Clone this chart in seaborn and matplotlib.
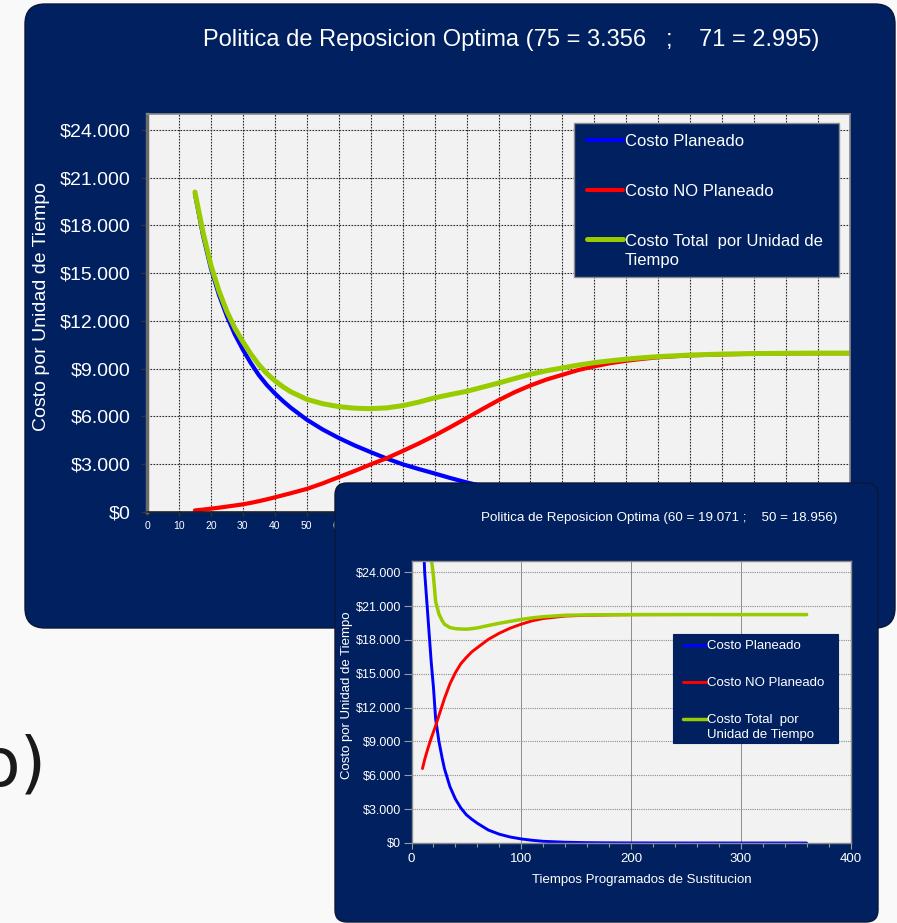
import numpy as np
import matplotlib
matplotlib.use("Agg")
import matplotlib.pyplot as plt
import seaborn as sns
from matplotlib.patches import FancyBboxPatch, Rectangle
from matplotlib.transforms import IdentityTransform
from matplotlib.ticker import MultipleLocator, FuncFormatter

# ---------------- data ----------------
big_x = [15, 17.5, 20, 22.5, 25, 27.5, 30, 32.5, 35, 37.5, 40, 42.5, 45, 50, 55,
         60, 65, 70, 75, 80, 85, 90, 95, 100, 105, 110, 115, 120, 125, 130, 135,
         140, 145, 150, 155, 160, 170, 180, 190, 200, 210, 220]
big_planeado = [20000, 17400, 15300, 13650, 12300, 11150, 10200, 9350, 8600,
                7980, 7450, 6980, 6550, 5800, 5180, 4650, 4180, 3760, 3360, 3000,
                2700, 2420, 2130, 1860, 1620, 1400, 1220, 1050, 910, 780, 670,
                580, 500, 420, 360, 300, 220, 160, 115, 80, 55, 40]
big_no_planeado = [100, 150, 210, 270, 340, 410, 480, 575, 680, 795, 920, 1050,
                   1180, 1450, 1800, 2190, 2580, 2990, 3380, 3830, 4300, 4800,
                   5340, 5900, 6470, 7020, 7520, 7950, 8320, 8620, 8920, 9150,
                   9350, 9500, 9620, 9720, 9840, 9900, 9940, 9960, 9970, 9970]
big_total = [20100, 17600, 15500, 13900, 12600, 11550, 10700, 9920, 9250, 8700,
             8250, 7870, 7550, 7080, 6800, 6620, 6520, 6490, 6540, 6680, 6900,
             7170, 7380, 7580, 7840, 8100, 8380, 8650, 8870, 9050, 9230, 9380,
             9500, 9600, 9690, 9760, 9860, 9920, 9950, 9970, 9980, 9980]

small_x = [10, 12, 15, 18, 20, 22, 25, 28, 30, 35, 40, 45, 50, 55, 60, 70, 80,
           90, 100, 110, 120, 140, 160, 180, 200, 250, 300, 360]
small_planeado = [29000, 24000, 20000, 16000, 13800, 11000, 9000, 7500, 6600,
                  5000, 3900, 3100, 2500, 2100, 1750, 1150, 780, 530, 360, 240,
                  150, 70, 30, 15, 8, 2, 0, 0]
small_no_planeado = [6600, 7400, 8400, 9300, 9850, 10400, 11300, 12200, 12800,
                     14100, 15100, 15900, 16450, 16950, 17320, 18050, 18600,
                     19050, 19400, 19700, 19900, 20120, 20190, 20220, 20240,
                     20250, 20250, 20250]
small_total = [35600, 31400, 28400, 25300, 23650, 21400, 20300, 19700, 19400,
               19100, 19000, 18970, 18956, 19000, 19071, 19280, 19480, 19650,
               19820, 19960, 20060, 20190, 20220, 20235, 20248, 20252, 20250,
               20250]

series_labels_big = ["Costo Planeado", "Costo NO Planeado",
                     "Costo Total  por Unidad de\nTiempo"]
series_labels_small = ["Costo Planeado", "Costo NO Planeado",
                       "Costo Total  por\nUnidad de Tiempo"]
title_big = "Politica de Reposicion Optima (75 = 3.356   ;    71 = 2.995)"
title_small = "Politica de Reposicion Optima (60 = 19.071 ;    50 = 18.956)"
ylabel = "Costo por Unidad de Tiempo"
xlabel = "Tiempos Programados de Sustitucion"

# ---------------- style ----------------
sns.set_style("white")
plt.rcParams['font.family'] = ['Liberation Sans', 'DejaVu Sans']

NAVY = '#002060'
BLUE, RED, GREEN = '#0000FF', '#FF0000', '#99CC00'
W, H, DPI = 897, 923, 100

fig = plt.figure(figsize=(W / DPI, H / DPI), dpi=DPI, facecolor='#f9f9fa')


def px_axes(l, t, r, b):
    return [l / W, 1 - b / H, (r - l) / W, (b - t) / H]


money = FuncFormatter(lambda v, p: "$" + f"{int(round(v)):,}".replace(",", "."))
# only the x labels that are not hidden by the front panel
big_xfmt = FuncFormatter(lambda v, p: f"{int(round(v))}" if v <= 60 else "")

# background slide text fragment
fig.text(46 / W, 1 - 786 / H, "o)", ha='right', va='baseline', fontsize=49,
         color='#1a1a1a', family='DejaVu Sans', zorder=0)

# ---------------- big panel ----------------
big_panel = FancyBboxPatch((25, H - 628), 870, 624,
                           boxstyle="round,pad=0,rounding_size=20",
                           transform=IdentityTransform(), fc=NAVY,
                           ec='#0b1638', lw=1, zorder=0.5)
fig.add_artist(big_panel)
fig.text(511.5 / W, 1 - 40 / H, title_big, ha='center', va='center',
         fontsize=17, color='white', zorder=1)

ax1 = fig.add_axes(px_axes(147, 114, 850, 512), facecolor='#F2F2F2')
ax1.set_zorder(1)
sns.lineplot(x=big_x, y=big_planeado, ax=ax1, color=BLUE, linewidth=3,
             label=series_labels_big[0], solid_capstyle='round')
sns.lineplot(x=big_x, y=big_no_planeado, ax=ax1, color=RED, linewidth=3,
             label=series_labels_big[1], solid_capstyle='round')
sns.lineplot(x=big_x, y=big_total, ax=ax1, color=GREEN, linewidth=3.6,
             label=series_labels_big[2], solid_capstyle='round')
ax1.set_xlim(0, 220)
ax1.set_ylim(0, 25000)
ax1.xaxis.set_major_locator(MultipleLocator(10))
ax1.xaxis.set_major_formatter(big_xfmt)
ax1.yaxis.set_major_locator(MultipleLocator(3000))
ax1.yaxis.set_major_formatter(money)
ax1.set_axisbelow(True)
ax1.grid(True, which='major', color='#2a2a2a', linestyle=(0, (1.5, 1.2)),
         linewidth=0.8)
ax1.tick_params(axis='y', left=True, labelsize=14, labelcolor='white',
                color='#333333', length=4, width=1, pad=8, direction='out')
ax1.tick_params(axis='x', bottom=True, labelsize=7.5, labelcolor='white',
                color='#333333', length=3, width=1, pad=3.5, direction='out')
for s in ax1.spines.values():
    s.set_color('#8a8a8a')
    s.set_linewidth(1.2)
ax1.spines['left'].set_color('#6a6a6a')
ax1.spines['left'].set_linewidth(2.5)
ax1.spines['bottom'].set_color('#222222')
ax1.set_ylabel(ylabel, fontsize=14, color='white', va='center')
ax1.yaxis.set_label_coords((42 - 147) / 703, (512 - 306.5) / 398)
ax1.set_xlabel(xlabel, fontsize=10.5, color='white')

ax1.add_patch(Rectangle((0.6074, 0.5912), 0.377, 0.3854,
                        transform=ax1.transAxes, fc=NAVY, ec='#8c8c8c',
                        lw=1, zorder=4))
h1 = ax1.get_lines()[:3]
leg1 = ax1.legend(handles=h1, labels=series_labels_big, loc='upper left',
                  bbox_to_anchor=(0.626, 0.951), frameon=False, borderpad=0,
                  borderaxespad=0, fontsize=12, handlelength=2.15,
                  handletextpad=0.12, labelspacing=2.1, labelcolor='white')
leg1.set_zorder(5)
leg1.get_texts()[2].set_linespacing(1.4)
lh = leg1.legend_handles[2]
lh.set_ydata(np.asarray(lh.get_ydata(), dtype=float) + 0.5 * 1.4 * 12)

# ---------------- small panel ----------------
small_panel = FancyBboxPatch((335, 1), 543, 439,
                             boxstyle="round,pad=0,rounding_size=12",
                             transform=IdentityTransform(), fc=NAVY,
                             ec='#0b1638', lw=1, zorder=2)
fig.add_artist(small_panel)
fig.text(659 / W, 1 - 518.5 / H, title_small, ha='center', va='center',
         fontsize=9.6, color='white', zorder=4)

ax2 = fig.add_axes(px_axes(411.5, 561, 850.5, 843), facecolor='#F2F2F2')
ax2.set_zorder(3)
sns.lineplot(x=small_x, y=small_planeado, ax=ax2, color=BLUE, linewidth=2.1,
             label=series_labels_small[0])
sns.lineplot(x=small_x, y=small_no_planeado, ax=ax2, color=RED, linewidth=2.1,
             label=series_labels_small[1], solid_capstyle='round')
sns.lineplot(x=small_x, y=small_total, ax=ax2, color=GREEN, linewidth=2.5,
             label=series_labels_small[2], solid_capstyle='round')
ax2.set_xlim(0, 400)
ax2.set_ylim(0, 25000)
ax2.xaxis.set_major_locator(MultipleLocator(100))
ax2.xaxis.set_minor_locator(MultipleLocator(20))
ax2.yaxis.set_major_locator(MultipleLocator(3000))
ax2.yaxis.set_major_formatter(money)
ax2.set_axisbelow(True)
ax2.grid(True, axis='y', which='major', color='#8c8c8c',
         linestyle=(0, (1, 1)), linewidth=0.8)
ax2.grid(True, axis='x', which='major', color='#8c8c8c', linestyle='-',
         linewidth=0.7)
ax2.tick_params(axis='y', left=True, labelsize=9, labelcolor='white',
                color='#9a9a9a', length=6, width=0.8, pad=1.5)
ax2.tick_params(axis='x', which='major', bottom=True, labelsize=9.5,
                labelcolor='white', color='#9a9a9a', length=4, width=0.8, pad=3)
ax2.tick_params(axis='x', which='minor', bottom=True, color='#9a9a9a',
                length=3, width=0.8)
for s in ax2.spines.values():
    s.set_color('#8a8a8a')
    s.set_linewidth(1.0)
ax2.set_ylabel(ylabel, fontsize=9.5, color='white', va='center')
ax2.yaxis.set_label_coords((347 - 411.5) / 439, (843 - 695) / 282)
ax2.set_xlabel(xlabel, fontsize=9.5, color='white', va='center')
ax2.xaxis.set_label_coords((642 - 411.5) / 439, (843 - 880) / 282)

ax2.add_patch(Rectangle((0.595, 0.3557), 0.3765, 0.3855,
                        transform=ax2.transAxes, fc=NAVY, ec=NAVY,
                        lw=0.8, zorder=4))
h2 = ax2.get_lines()[:3]
leg2 = ax2.legend(handles=h2, labels=series_labels_small, loc='upper left',
                  bbox_to_anchor=(0.6178, 0.720), frameon=False, borderpad=0,
                  borderaxespad=0, fontsize=9.5, handlelength=1.82,
                  handletextpad=0.05, labelspacing=1.88, labelcolor='white')
leg2.set_zorder(5)
leg2.get_texts()[2].set_linespacing(1.35)
lh2 = leg2.legend_handles[2]
lh2.set_ydata(np.asarray(lh2.get_ydata(), dtype=float) + 0.5 * 1.35 * 9.5)

fig.savefig("out.png", dpi=DPI, facecolor=fig.get_facecolor())
